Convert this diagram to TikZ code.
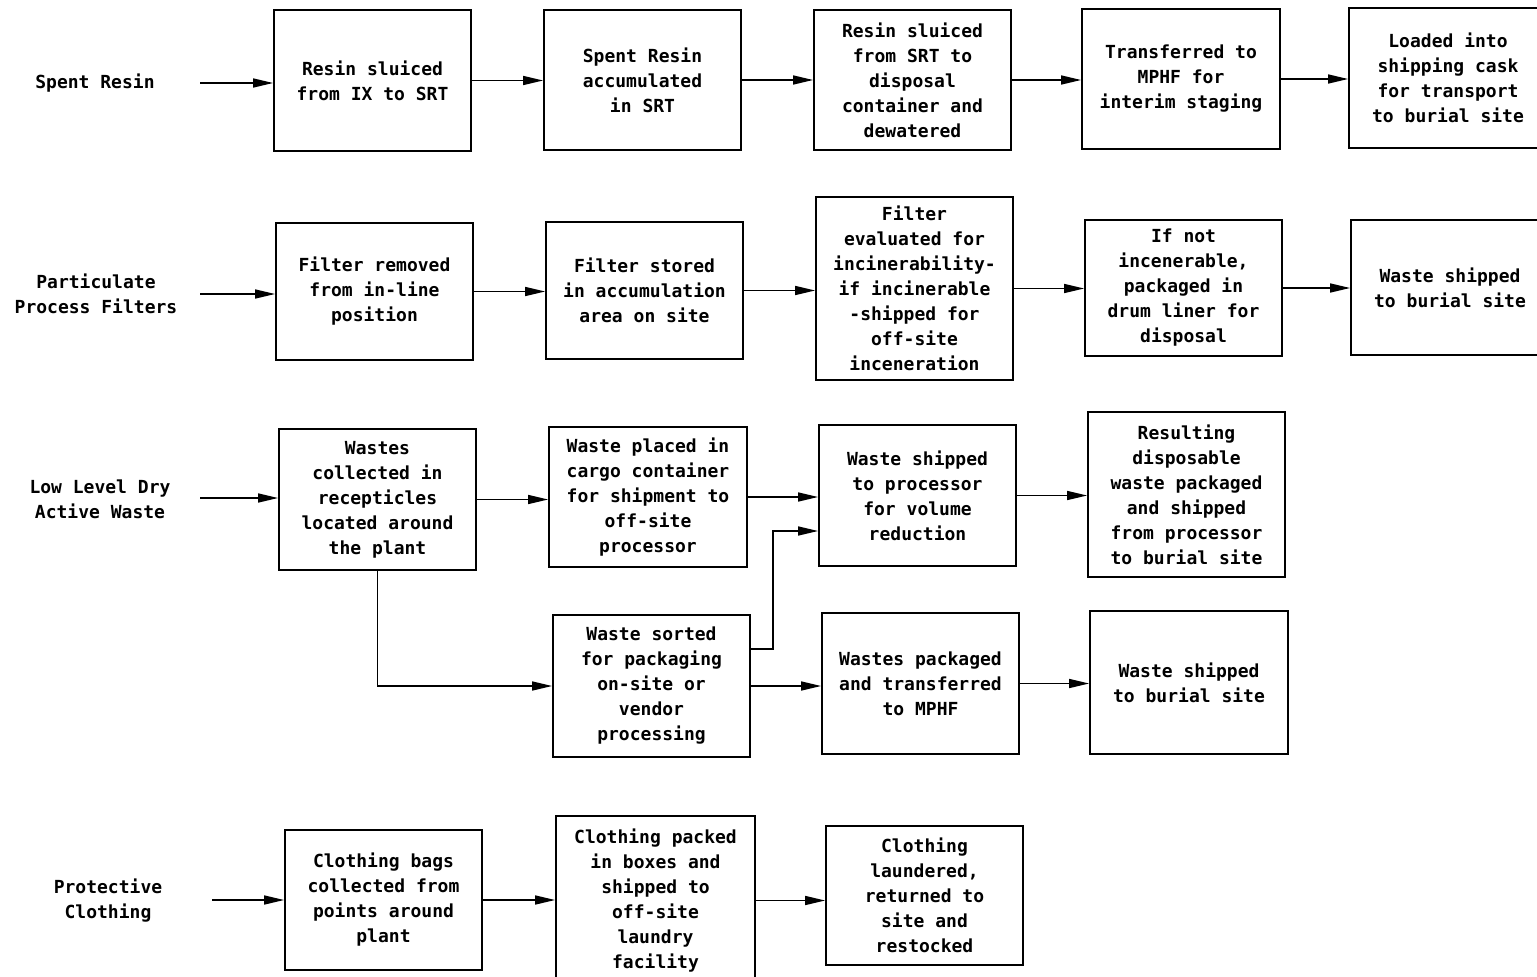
\documentclass[tikz,border=0pt]{standalone}
\usepackage{fontspec}
\setmainfont{DejaVu Sans Mono}
\usetikzlibrary{arrows.meta}
\begin{document}
\begin{tikzpicture}[x=1pt,y=-1pt,
  txt/.style={font=\fontsize{18}{25}\selectfont\bfseries, align=center},
  box/.style={txt, draw, line width=1.8pt, inner sep=0pt},
  arr/.style={line width=1.6pt, -{Triangle[length=20pt,width=9pt]}}]
\clip (0,0) rectangle (1537,977);
\useasboundingbox (0,0) rectangle (1537,977);
% ---------- Row 1: Spent Resin
\node[txt] (l1) at (95,83) {Spent Resin};
\coordinate (s1) at (200,83);
\node[box, minimum width=197pt, minimum height=141pt] (r1a) at (372.5,80.5) {Resin sluiced\\from IX to SRT};
\node[box, minimum width=197pt, minimum height=140pt] (r1b) at (642.5,80) {Spent Resin\\accumulated\\in SRT};
\node[box, minimum width=197pt, minimum height=140pt] (r1c) at (912.5,80) {Resin sluiced\\from SRT to\\disposal\\container and\\dewatered};
\node[box, minimum width=198pt, minimum height=140pt] (r1d) at (1181,79) {Transferred to\\MPHF for\\interim staging};
\node[box, minimum width=198pt, minimum height=140pt] (r1e) at (1448,78) {Loaded into\\shipping cask\\for transport\\to burial site};
\draw[arr] (s1) -- (s1 -| r1a.west);
\draw[arr] (r1a.east) -- (r1a.east -| r1b.west);
\draw[arr] (r1b.east) -- (r1b.east -| r1c.west);
\draw[arr] (r1c.east) -- (r1c.east -| r1d.west);
\draw[arr] (r1d.east) -- (r1d.east -| r1e.west);
% ---------- Row 2: Particulate Process Filters
\node[txt] (l2) at (96,294) {Particulate\\Process Filters};
\coordinate (s2) at (200,294);
\node[box, minimum width=197pt, minimum height=137pt] (r2a) at (374.5,291.5) {Filter removed\\from in-line\\position};
\node[box, minimum width=197pt, minimum height=137pt] (r2b) at (644.5,290.5) {Filter stored\\in accumulation\\area on site};
\node[box, minimum width=197pt, minimum height=183pt] (r2c) at (914.5,288.5) {Filter\\evaluated for\\incinerability-\\if incinerable\\-shipped for\\off-site\\inceneration};
\node[box, minimum width=197pt, minimum height=136pt] (r2d) at (1183.5,288) {If not\\incenerable,\\packaged in\\drum liner for\\disposal};
\node[box, minimum width=198pt, minimum height=135pt] (r2e) at (1450,287.5) {Waste shipped\\to burial site};
\draw[arr] (s2) -- (s2 -| r2a.west);
\draw[arr] (r2a.east) -- (r2a.east -| r2b.west);
\draw[arr] (r2b.east) -- (r2b.east -| r2c.west);
\draw[arr] (r2c.east) -- (r2c.east -| r2d.west);
\draw[arr] (r2d.east) -- (r2d.east -| r2e.west);
% ---------- Row 3: Low Level Dry Active Waste
\node[txt] (l3) at (100,499) {Low Level Dry\\Active Waste};
\coordinate (s3) at (200,498);
\node[box, minimum width=197pt, minimum height=141pt] (r3a) at (377.5,499.5) {Wastes\\collected in\\recepticles\\located around\\the plant};
\node[box, minimum width=198pt, minimum height=140pt] (r3b) at (648,497) {Waste placed in\\cargo container\\for shipment to\\off-site\\processor};
\node[box, minimum width=197pt, minimum height=141pt] (r3c) at (917.5,495.5) {Waste shipped\\to processor\\for volume\\reduction};
\node[box, minimum width=197pt, minimum height=165pt] (r3d) at (1186.5,494.5) {Resulting\\disposable\\waste packaged\\and shipped\\from processor\\to burial site};
\node[box, minimum width=197pt, minimum height=142pt] (r3e) at (651.5,686) {Waste sorted\\for packaging\\on-site or\\vendor\\processing};
\node[box, minimum width=197pt, minimum height=141pt] (r3f) at (920.5,683.5) {Wastes packaged\\and transferred\\to MPHF};
\node[box, minimum width=198pt, minimum height=143pt] (r3g) at (1189,682.5) {Waste shipped\\to burial site};
\draw[arr] (s3) -- (s3 -| r3a.west);
\draw[arr] (r3a.east) -- (r3a.east -| r3b.west);
\draw[arr] (r3b.east) -- (r3b.east -| r3c.west);
\draw[arr] (r3c.east) -- (r3c.east -| r3d.west);
\draw[arr] (r3a.south) |- (r3e.west);
\draw[arr] ([yshift=37pt]r3e.east) -- ++(22,0) |- ([yshift=-35.5pt]r3c.west);
\draw[arr] (r3e.east) -- (r3e.east -| r3f.west);
\draw[arr] (r3f.east) -- (r3f.east -| r3g.west);
% ---------- Row 4: Protective Clothing
\node[txt] (l4) at (108,901) {Protective\\Clothing};
\coordinate (s4) at (212,900);
\node[box, minimum width=197pt, minimum height=140pt] (r4a) at (383.5,900) {Clothing bags\\collected from\\points around\\plant};
\node[box, minimum width=199pt, minimum height=169pt] (r4b) at (655.5,900.5) {Clothing packed\\in boxes and\\shipped to\\off-site\\laundry\\facility};
\node[box, minimum width=197pt, minimum height=139pt] (r4c) at (924.5,895.5) {Clothing\\laundered,\\returned to\\site and\\restocked};
\draw[arr] (s4) -- (s4 -| r4a.west);
\draw[arr] (r4a.east) -- (r4a.east -| r4b.west);
\draw[arr] (r4b.east) -- (r4b.east -| r4c.west);
\end{tikzpicture}
\end{document}
